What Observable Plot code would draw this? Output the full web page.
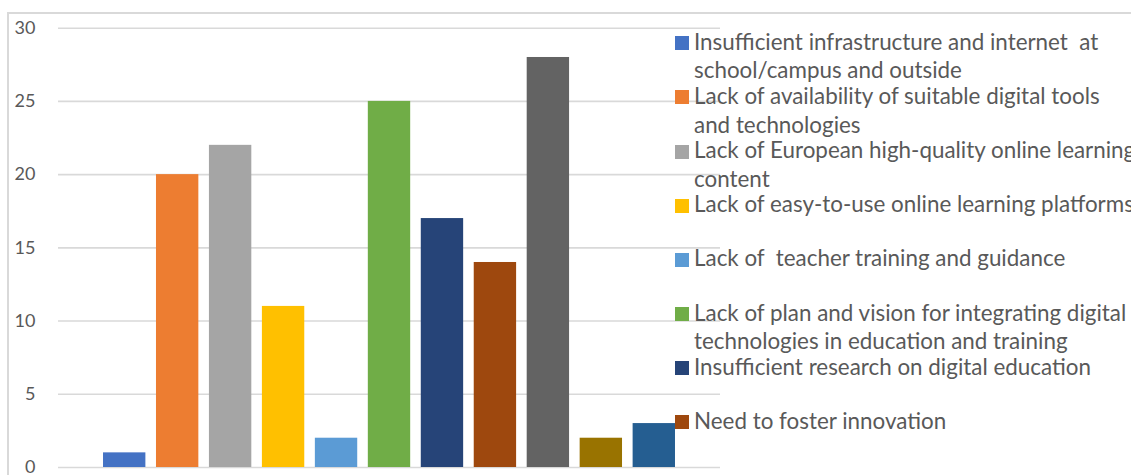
<!DOCTYPE html>
<html>
<head>
<meta charset="utf-8">
<script src="https://cdn.jsdelivr.net/npm/d3@7"></script>
<script src="https://cdn.jsdelivr.net/npm/@observablehq/plot@0.6"></script>
<style>
  html, body { margin: 0; padding: 0; background: #fff; overflow: hidden; }
  #chart { position: relative; width: 1131px; height: 475px; overflow: hidden; font-family: Lato, "DejaVu Sans", sans-serif; }
  #chart svg { position: absolute; left: 0; top: 0; }
  #border { position: absolute; left: 7px; top: 12px; width: 3000px; height: 3000px;
            border-left: 2px solid #d9d9d9; border-top: 2px solid #d9d9d9; }
  #legend { position: absolute; left: 675px; top: 0; }
  .swatch { position: absolute; left: 0; width: 14px; height: 14px; }
  .label { position: absolute; left: 19px; color: #595959; font-size: 22.4px; line-height: 28.4px; white-space: pre; }
</style>
</head>
<body>
<div id="chart"><div id="border"></div></div>
<script>
// Bar values, one per survey answer, in drawing order
const values = [1, 20, 22, 11, 2, 25, 17, 14, 28, 2, 3];

// Office-theme fill for each bar
const colors = ["#4472C4", "#ED7D31", "#A5A5A5", "#FFC000", "#5B9BD5", "#70AD47",
                "#264478", "#9E480E", "#636363", "#997300", "#255E91"];

// Legend texts (line breaks as they wrap in the legend)
const legendLabels = [
  "Insufficient infrastructure and internet  at\nschool/campus and outside",
  "Lack of availability of suitable digital tools\nand technologies",
  "Lack of European high-quality online learning\ncontent",
  "Lack of easy-to-use online learning platforms",
  "Lack of  teacher training and guidance",
  "Lack of plan and vision for integrating digital\ntechnologies in education and training",
  "Insufficient research on digital education",
  "Need to foster innovation"
];

// Value axis ticks
const yTicks = [0, 5, 10, 15, 20, 25, 30];

const ids = values.map((_, i) => i);
const data = ids.map(i => ({id: i, value: values[i]}));

const plot = Plot.plot({
  width: 1131,
  height: 475,
  marginLeft: 58,
  marginRight: 411,
  marginTop: 27.7,
  marginBottom: 8,
  style: {fontFamily: "Lato, sans-serif", fontSize: "18px", color: "#595959", background: "transparent", overflow: "visible"},
  x: {domain: ids, paddingInner: 0.2, paddingOuter: 0.85, round: false, axis: null},
  y: {domain: [0, 30], ticks: yTicks, tickSize: 0, tickPadding: 23, label: null},
  color: {domain: ids, range: colors},
  marks: [
    Plot.ruleY(yTicks, {stroke: "#d9d9d9", strokeWidth: 1.6}),
    Plot.barY(data, {x: "id", y: "value", fill: "id"})
  ]
});
document.getElementById("chart").appendChild(plot);

// Legend drawn over the plot area, one entry per row
const legend = document.createElement("div");
legend.id = "legend";
const firstCenter = 43.3, rowStep = 54.1;
legendLabels.forEach((text, i) => {
  const c = firstCenter + i * rowStep;
  const sw = document.createElement("div");
  sw.className = "swatch";
  sw.style.top = (c - 7) + "px";
  sw.style.background = colors[i];
  const lb = document.createElement("div");
  lb.className = "label";
  lb.style.top = (c - 15.3) + "px";
  lb.textContent = text;
  legend.appendChild(sw);
  legend.appendChild(lb);
});
document.getElementById("chart").appendChild(legend);
</script>
</body>
</html>
